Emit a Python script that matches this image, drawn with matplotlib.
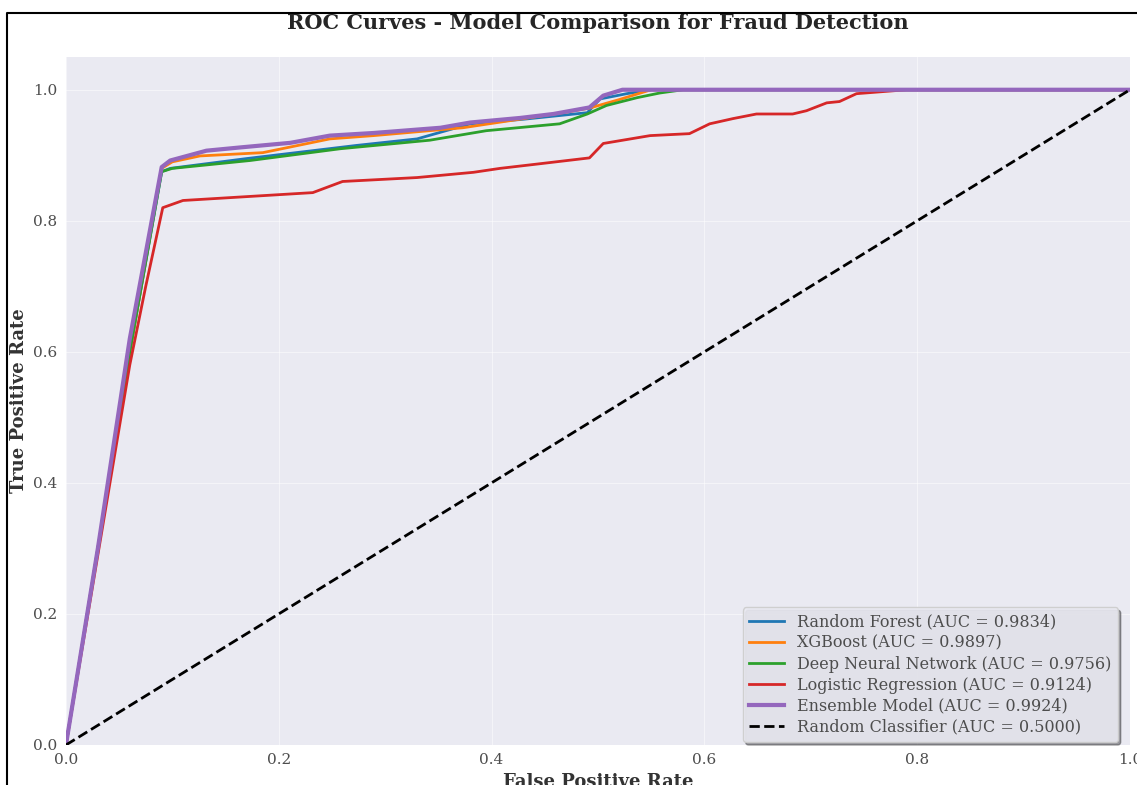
"""
ROC curves - model comparison for fraud detection
"""
import matplotlib
matplotlib.use("Agg")
import matplotlib.pyplot as plt
from matplotlib.lines import Line2D

# Data
rf_fpr = [0, 0.03, 0.06, 0.09, 0.098, 0.17, 0.273, 0.33, 0.38, 0.43, 0.49, 0.502, 0.527, 0.55, 1.0]
rf_tpr = [0, 0.30, 0.60, 0.875, 0.880, 0.895, 0.915, 0.925, 0.948, 0.955, 0.965, 0.986, 0.994, 1.0, 1.0]

xgb_fpr = [0, 0.03, 0.06, 0.09, 0.10, 0.126, 0.185, 0.248, 0.289, 0.373, 0.467, 0.492, 0.52, 0.55, 1.0]
xgb_tpr = [0, 0.30, 0.60, 0.880, 0.890, 0.899, 0.904, 0.925, 0.930, 0.942, 0.965, 0.972, 0.985, 1.0, 1.0]

dnn_fpr = [0, 0.03, 0.06, 0.09, 0.10, 0.173, 0.258, 0.342, 0.395, 0.464, 0.49, 0.508, 0.537, 0.558, 0.58, 1.0]
dnn_tpr = [0, 0.30, 0.60, 0.875, 0.880, 0.892, 0.910, 0.923, 0.9375, 0.948, 0.963, 0.976, 0.988, 0.995, 1.0, 1.0]

lr_fpr = [0, 0.03, 0.06, 0.075, 0.091, 0.110, 0.232, 0.26, 0.33, 0.383, 0.408, 0.445, 0.492, 0.505,
          0.549, 0.586, 0.605, 0.627, 0.649, 0.683, 0.696, 0.715, 0.727, 0.743, 0.79, 1.0]
lr_tpr = [0, 0.29, 0.58, 0.70, 0.82, 0.831, 0.843, 0.86, 0.866, 0.874, 0.880, 0.887, 0.896, 0.918,
          0.930, 0.933, 0.948, 0.956, 0.963, 0.963, 0.968, 0.980, 0.982, 0.994, 1.0, 1.0]

ens_fpr = [0, 0.03, 0.06, 0.09, 0.098, 0.132, 0.164, 0.211, 0.248, 0.289, 0.352, 0.38, 0.427, 0.458,
           0.492, 0.505, 0.523, 1.0]
ens_tpr = [0, 0.30, 0.62, 0.882, 0.892, 0.907, 0.912, 0.919, 0.930, 0.934, 0.942, 0.950, 0.957, 0.963,
           0.973, 0.991, 1.0, 1.0]

labels = ["Random Forest", "XGBoost", "Deep Neural Network", "Logistic Regression", "Ensemble Model"]
aucs = [0.9834, 0.9897, 0.9756, 0.9124, 0.9924]

plt.rcParams['font.family'] = 'DejaVu Serif'

fig = plt.figure(figsize=(11.37, 7.85), dpi=100)
ax = fig.add_axes([0.058, 0.051, 0.9358, 0.8764])
ax.set_facecolor('#EAEAF2')
for s in ax.spines.values():
    s.set_visible(False)
ax.grid(True, color='white', alpha=0.5, linewidth=0.8)
ax.set_axisbelow(True)

curves = [(rf_fpr, rf_tpr), (xgb_fpr, xgb_tpr), (dnn_fpr, dnn_tpr), (lr_fpr, lr_tpr), (ens_fpr, ens_tpr)]
colors = ['#1f77b4', '#ff7f0e', '#2ca02c', '#d62728', '#9467bd']
widths = [2, 2, 2, 2, 3]
for (f, t), name, auc, c, w in zip(curves, labels, aucs, colors, widths):
    ax.plot(f, t, color=c, lw=w, label=f"{name} (AUC = {auc:.4f})")
ax.plot([0, 1], [0, 1], 'k--', lw=2, label="Random Classifier (AUC = 0.5000)")

ax.set_xlim(0, 1)
ax.set_ylim(0, 1.05)
ax.set_xticks([0, 0.2, 0.4, 0.6, 0.8, 1.0])
ax.set_yticks([0, 0.2, 0.4, 0.6, 0.8, 1.0])
ax.tick_params(length=0, labelsize=11, labelcolor='0.3', pad=6)
ax.set_xlabel("False Positive Rate", fontsize=13, fontweight='bold', color='0.2')
ax.set_ylabel("True Positive Rate", fontsize=13, fontweight='bold', color='0.2')
ax.set_title("ROC Curves - Model Comparison for Fraud Detection", fontsize=15,
             fontweight='bold', color='0.15', pad=20.5)

leg = ax.legend(loc='lower right', bbox_to_anchor=(0.9887, 0.004), borderaxespad=0,
                fontsize=11.5, shadow=True, framealpha=0.9,
                labelspacing=0.25, handlelength=2.2,
                facecolor='#EAEAF2', edgecolor='0.8', labelcolor='0.3')

# frame line of the screenshot
fig.add_artist(Line2D([0.0062, 0.0062, 1.0], [0.0, 0.9834, 0.9834],
                      transform=fig.transFigure, color='black', lw=1.5))

fig.savefig("out.png", dpi=100)
